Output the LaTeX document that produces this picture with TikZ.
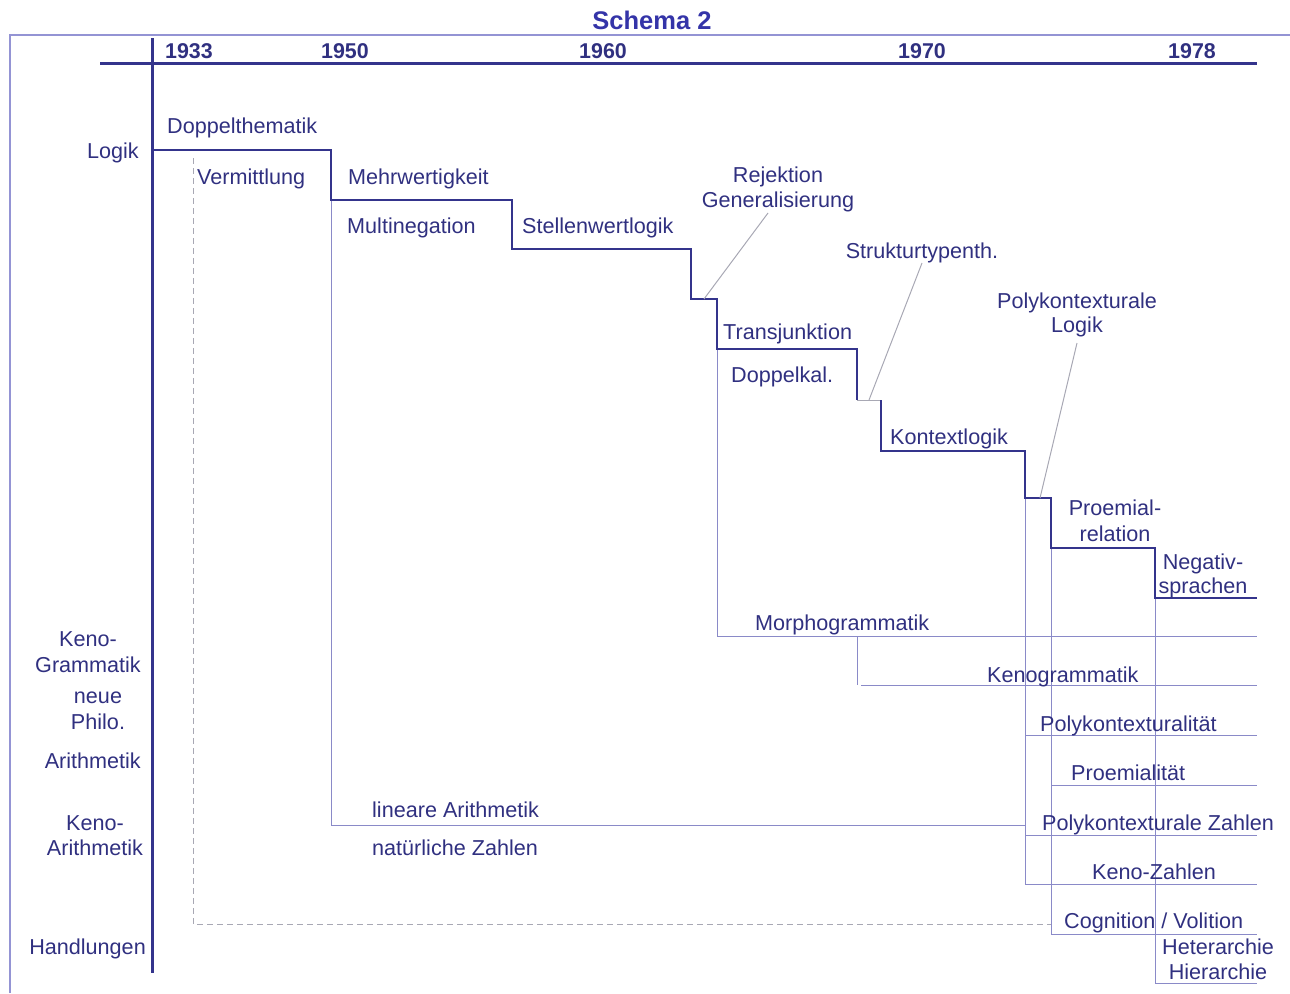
\documentclass[tikz,border=0pt]{standalone}
\usepackage{fontspec}
\setmainfont{Liberation Sans}
\definecolor{txtc}{HTML}{303080}
\definecolor{navy}{HTML}{34348C}
\definecolor{titlec}{HTML}{3434A8}
\definecolor{lav}{HTML}{8A8AC8}
\definecolor{greyc}{HTML}{A8A8B4}
\definecolor{framec}{HTML}{9494D4}
\begin{document}
\begin{tikzpicture}[x=1pt,y=-1pt,
  lbl/.style={inner sep=0pt, text=txtc, font=\fontsize{21.6}{25}\selectfont},
  yr/.style={inner sep=0pt, text=txtc, font=\fontsize{21.4}{25}\selectfont\bfseries},
  stepline/.style={draw=navy, line width=2.7pt, line join=miter},
  axisline/.style={draw=navy, line width=3pt},
  thinline/.style={draw=lav, line width=1pt},
  leader/.style={draw=greyc, line width=1pt},
  dashline/.style={draw=greyc, line width=1pt, dash pattern=on 6pt off 4pt},
  framel/.style={draw=framec, line width=1.3pt}]
\useasboundingbox (0,0) rectangle (1290,993);
% frame
\draw[framel] (10,993) -- (10,35) -- (1290,35);
% title
\node[inner sep=0pt, text=titlec, font=\fontsize{25.5}{29}\selectfont\bfseries, anchor=base] (title) at (652,29) {Schema 2};
% axes
\coordinate (ax1) at (100,63); \coordinate (ax2) at (1257,63);
\coordinate (ay1) at (152,38); \coordinate (ay2) at (152,973);
\draw[axisline] (ax1) -- (ax2);
\draw[axisline] (ay1) -- (ay2);
% years
\node[yr, anchor=base] (y33) at (189,58) {1933};
\node[yr, anchor=base] (y50) at (345,58) {1950};
\node[yr, anchor=base] (y60) at (603,58) {1960};
\node[yr, anchor=base] (y70) at (922,58) {1970};
\node[yr, anchor=base] (y78) at (1192,58) {1978};
% step coordinates
\coordinate (s0) at (152,150); \coordinate (s1) at (331,150);
\coordinate (s2) at (331,200); \coordinate (s3) at (512,200);
\coordinate (s4) at (512,249); \coordinate (s5) at (691,249);
\coordinate (s6) at (691,299); \coordinate (s7) at (717,299);
\coordinate (s8) at (717,349); \coordinate (s9) at (857,349);
\coordinate (s10) at (857,400); \coordinate (s11) at (881,400);
\coordinate (s12) at (881,451); \coordinate (s13) at (1025,451);
\coordinate (s14) at (1025,498); \coordinate (s15) at (1051,498);
\coordinate (s16) at (1051,548); \coordinate (s17) at (1155,548);
\coordinate (s18) at (1155,598); \coordinate (s19) at (1257,598);
% thin structure lines
\coordinate (la) at (331,825); \coordinate (lb) at (1025,825);
\draw[thinline] (s2) -- (la) -- (lb);
\coordinate (ma) at (717,636); \coordinate (mb) at (1257,636);
\draw[thinline] (s8) -- (ma) -- (mb);
\coordinate (ka) at (857,636); \coordinate (kb) at (857,685);
\coordinate (kc) at (861,685); \coordinate (kd) at (1257,685);
\draw[thinline] (ka) -- (kb);
\draw[thinline] (kc) -- (kd);
\coordinate (pa) at (1025,884); \coordinate (pb) at (1257,884);
\draw[thinline] (s14) -- (pa) -- (pb);
\coordinate (pc) at (1025,735); \coordinate (pd) at (1257,735);
\coordinate (pe) at (1025,835); \coordinate (pf) at (1257,835);
\draw[thinline] (pc) -- (pd);
\draw[thinline] (pe) -- (pf);
\coordinate (qa) at (1051,934); \coordinate (qb) at (1257,934);
\coordinate (qc) at (1051,785); \coordinate (qd) at (1257,785);
\draw[thinline] (s16) -- (qa) -- (qb);
\draw[thinline] (qc) -- (qd);
\coordinate (ha) at (1155,983); \coordinate (hb) at (1257,983);
\draw[thinline] (s18) -- (ha) -- (hb);
% dashed
\coordinate (da) at (193,158); \coordinate (db) at (193,924); \coordinate (dc) at (1051,924);
\draw[dashline] (da) -- (db) -- (dc);
% step line
\draw[stepline] (s0) -- (s1) -- (s2) -- (s3) -- (s4) -- (s5) -- (s6) -- (s7) -- (s8) -- (s9) -- (s10);
\draw[leader] (s10) -- (s11);
\draw[stepline] (s11) -- (s12) -- (s13) -- (s14) -- (s15) -- (s16) -- (s17) -- (s18) -- (s19);
% leaders
\coordinate (g1) at (768,213); \coordinate (g2) at (704,299);
\coordinate (t1) at (922,263); \coordinate (t2) at (869,400);
\coordinate (l1) at (1077,343); \coordinate (l2) at (1040,498);
\draw[leader] (g1) -- (g2);
\draw[leader] (t1) -- (t2);
\draw[leader] (l1) -- (l2);
% labels
\node[lbl, anchor=base east] (logik) at (139,158) {Logik};
\node[lbl, anchor=base west] (dth) at (167,133) {Doppelthematik};
\node[lbl, anchor=base west] (verm) at (197,184) {Vermittlung};
\node[lbl, anchor=base west] (mehr) at (348,184) {Mehrwertigkeit};
\node[lbl, anchor=base west] (mult) at (347,233) {Multinegation};
\node[lbl, anchor=base west] (stel) at (522,233) {Stellenwertlogik};
\node[lbl, anchor=base] (rej) at (778,182) {Rejektion};
\node[lbl, anchor=base] (gen) at (778,207) {Generalisierung};
\node[lbl, anchor=base] (str) at (922,258) {Strukturtypenth.};
\node[lbl, anchor=base west] (trans) at (723,339) {Transjunktion};
\node[lbl, anchor=base west] (dkal) at (731,382) {Doppelkal.};
\node[lbl, anchor=base] (polyl1) at (1077,308) {Polykontexturale};
\node[lbl, anchor=base] (polyl2) at (1077,332) {Logik};
\node[lbl, anchor=base west] (kont) at (890,444) {Kontextlogik};
\node[lbl, anchor=base] (pro1) at (1115,515) {Proemial-};
\node[lbl, anchor=base] (pro2) at (1115,541) {relation};
\node[lbl, anchor=base] (neg1) at (1203,569) {Negativ-};
\node[lbl, anchor=base] (neg2) at (1203,593) {sprachen};
\node[lbl, anchor=base west] (morph) at (755,630) {Morphogrammatik};
\node[lbl, anchor=base west] (keno) at (987,682) {Kenogrammatik};
\node[lbl, anchor=base west] (pkt) at (1040,731) {Polykontexturalität};
\node[lbl, anchor=base west] (prmt) at (1071,780) {Proemialität};
\node[lbl, anchor=base west] (pkz) at (1042,830) {Polykontexturale Zahlen};
\node[lbl, anchor=base west] (kz) at (1092,879) {Keno-Zahlen};
\node[lbl, anchor=base west] (cog) at (1064,928) {Cognition / Volition};
\node[lbl, anchor=base] (het) at (1218,954) {Heterarchie};
\node[lbl, anchor=base] (hie) at (1218,979) {Hierarchie};
\node[lbl, anchor=base west] (lin) at (372,817) {lineare Arithmetik};
\node[lbl, anchor=base west] (nat) at (372,855) {natürliche Zahlen};
\node[lbl, anchor=base] (kg1) at (88,646) {Keno-};
\node[lbl, anchor=base] (kg2) at (88,672) {Grammatik};
\node[lbl, anchor=base] (np1) at (98,703) {neue};
\node[lbl, anchor=base] (np2) at (98,729) {Philo.};
\node[lbl, anchor=base east] (ari) at (141,768) {Arithmetik};
\node[lbl, anchor=base] (ka1) at (95,830) {Keno-};
\node[lbl, anchor=base] (ka2) at (95,855) {Arithmetik};
\node[lbl, anchor=base east] (hand) at (146,954) {Handlungen};
\end{tikzpicture}
\end{document}
